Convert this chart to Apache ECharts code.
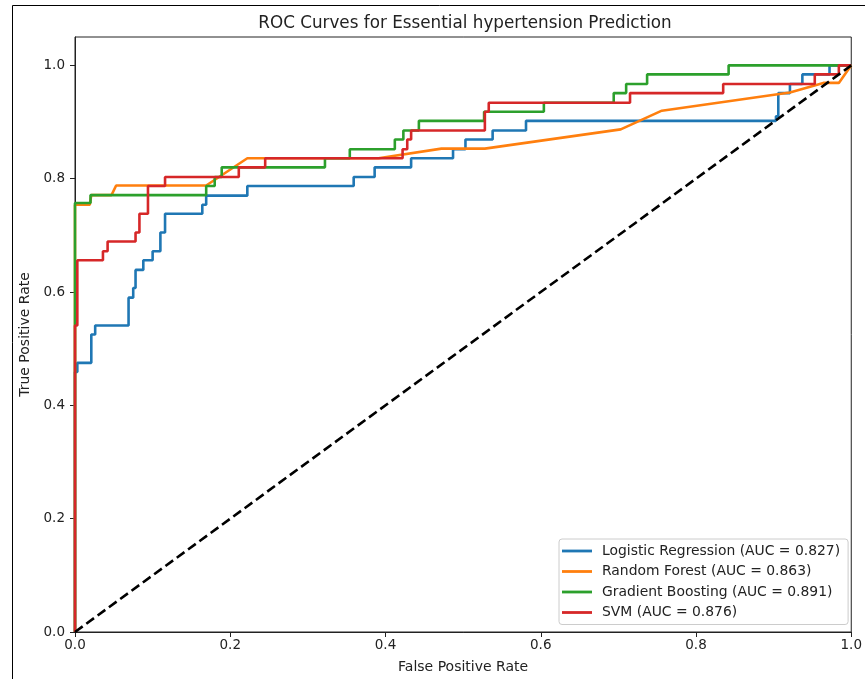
<!DOCTYPE html>
<html>
<head>
<meta charset="utf-8">
<script src="https://cdn.jsdelivr.net/npm/echarts@6/dist/echarts.min.js"></script>
<style>
  html, body { margin: 0; padding: 0; background: #fff; }
  #chart { width: 865px; height: 679px; }
</style>
</head>
<body>
<div id="chart"></div>
<script>
// ROC curves
const modelNames = ["Logistic Regression", "Random Forest", "Gradient Boosting", "SVM"]
const aucValues = ["0.827", "0.863", "0.891", "0.876"]
const colors = ["#1f77b4", "#ff7f0e", "#2ca02c", "#d62728"]

const lrFpr = [0, 0, 0.003, 0.003, 0.021, 0.021, 0.026, 0.026, 0.069, 0.069, 0.075, 0.075, 0.078, 0.078, 0.088, 0.088, 0.100, 0.100, 0.110, 0.110, 0.116, 0.116, 0.164, 0.164, 0.169, 0.169, 0.222, 0.222, 0.359, 0.359, 0.386, 0.386, 0.433, 0.433, 0.487, 0.487, 0.503, 0.503, 0.538, 0.538, 0.581, 0.581, 0.903, 0.903, 0.906, 0.906, 0.921, 0.921, 0.937, 0.937, 0.972, 0.972, 1]
const lrTpr = [0, 0.459, 0.459, 0.475, 0.475, 0.525, 0.525, 0.541, 0.541, 0.590, 0.590, 0.607, 0.607, 0.639, 0.639, 0.656, 0.656, 0.672, 0.672, 0.705, 0.705, 0.738, 0.738, 0.754, 0.754, 0.770, 0.770, 0.787, 0.787, 0.803, 0.803, 0.820, 0.820, 0.836, 0.836, 0.852, 0.852, 0.869, 0.869, 0.885, 0.885, 0.902, 0.902, 0.910, 0.910, 0.951, 0.951, 0.967, 0.967, 0.984, 0.984, 1, 1]

const rfFpr = [0, 0, 0.019, 0.021, 0.047, 0.053, 0.169, 0.222, 0.391, 0.472, 0.528, 0.703, 0.756, 0.921, 0.964, 0.984, 1]
const rfTpr = [0, 0.754, 0.754, 0.771, 0.771, 0.788, 0.788, 0.836, 0.836, 0.853, 0.853, 0.887, 0.920, 0.952, 0.969, 0.969, 1]

const gbFpr = [0, 0, 0.020, 0.020, 0.169, 0.169, 0.180, 0.180, 0.189, 0.189, 0.322, 0.322, 0.354, 0.354, 0.412, 0.412, 0.423, 0.423, 0.443, 0.443, 0.527, 0.527, 0.604, 0.604, 0.694, 0.694, 0.710, 0.710, 0.737, 0.737, 0.842, 0.842, 1]
const gbTpr = [0, 0.757, 0.757, 0.771, 0.771, 0.787, 0.787, 0.803, 0.803, 0.820, 0.820, 0.836, 0.836, 0.852, 0.852, 0.869, 0.869, 0.885, 0.885, 0.902, 0.902, 0.918, 0.918, 0.934, 0.934, 0.951, 0.951, 0.967, 0.967, 0.984, 0.984, 1, 1]

const svmFpr = [0, 0, 0.003, 0.003, 0.036, 0.036, 0.042, 0.042, 0.078, 0.078, 0.083, 0.083, 0.094, 0.094, 0.116, 0.116, 0.211, 0.211, 0.245, 0.245, 0.422, 0.422, 0.428, 0.428, 0.433, 0.433, 0.528, 0.528, 0.533, 0.533, 0.715, 0.715, 0.835, 0.835, 0.953, 0.953, 0.984, 0.984, 1]
const svmTpr = [0, 0.541, 0.541, 0.656, 0.656, 0.672, 0.672, 0.689, 0.689, 0.705, 0.705, 0.738, 0.738, 0.787, 0.787, 0.803, 0.803, 0.820, 0.820, 0.836, 0.836, 0.852, 0.852, 0.869, 0.869, 0.885, 0.885, 0.918, 0.918, 0.934, 0.934, 0.951, 0.951, 0.967, 0.967, 0.984, 0.984, 1, 1]

const chanceLine = [[0, 0], [1, 1]]
const xTicks = [0, 0.2, 0.4, 0.6, 0.8, 1.0]
const yTicks = [0, 0.2, 0.4, 0.6, 0.8, 1.0]

const font = "DejaVu Sans"
const zip = (xs, ys) => xs.map((x, i) => [x, ys[i]])
const curves = [zip(lrFpr, lrTpr), zip(rfFpr, rfTpr), zip(gbFpr, gbTpr), zip(svmFpr, svmTpr)]
const labels = modelNames.map((n, i) => `${n} (AUC = ${aucValues[i]})`)

const chart = echarts.init(document.getElementById("chart"))

const series = curves.map((data, i) => ({
  name: labels[i],
  type: "line",
  data,
  showSymbol: false,
  symbol: "none",
  color: colors[i],
  lineStyle: { width: 2.6, color: colors[i] }
}))
series.push({
  name: "chance",
  type: "line",
  data: chanceLine,
  showSymbol: false,
  symbol: "none",
  lineStyle: { width: 2.6, color: "#000", type: [9.5, 4.5] }
})

chart.setOption({
  animation: false,
  backgroundColor: "#fff",
  title: {
    text: "ROC Curves for Essential hypertension Prediction",
    left: 465,
    textAlign: "center",
    top: 15,
    padding: 0,
    textStyle: { fontFamily: font, fontSize: 16.8, fontWeight: "normal", color: "#222" }
  },
  grid: { left: 75, right: 10, top: 37, bottom: 47, show: true, borderColor: "#222", borderWidth: 1 },
  xAxis: {
    type: "value",
    min: 0,
    max: 1,
    interval: 0.2,
    name: "False Positive Rate",
    nameLocation: "middle",
    nameGap: 28,
    nameTextStyle: { fontFamily: font, fontSize: 14, color: "#222" },
    axisLine: { show: true, lineStyle: { color: "#222", width: 1 } },
    axisTick: { show: true, length: 5, customValues: xTicks, lineStyle: { color: "#222" } },
    axisLabel: { fontFamily: font, fontSize: 13.5, color: "#222", margin: 6, customValues: xTicks, formatter: v => v.toFixed(1) },
    splitLine: { show: false }
  },
  yAxis: {
    type: "value",
    min: 0,
    max: 1.05,
    interval: 0.2,
    name: "True Positive Rate",
    nameLocation: "middle",
    nameGap: 38,
    nameTextStyle: { fontFamily: font, fontSize: 14, color: "#222" },
    axisLine: { show: true, lineStyle: { color: "#222", width: 1 } },
    axisTick: { show: true, length: 5, customValues: yTicks, lineStyle: { color: "#222" } },
    axisLabel: { fontFamily: font, fontSize: 13.5, color: "#222", margin: 10, customValues: yTicks, formatter: v => v.toFixed(1) },
    splitLine: { show: false }
  },
  legend: {
    data: labels,
    orient: "vertical",
    left: 559,
    top: 539,
    padding: [4, 8, 4, 3],
    itemWidth: 30,
    itemHeight: 2.8,
    itemGap: 4.5,
    icon: "rect",
    backgroundColor: "rgba(255,255,255,0.85)",
    borderColor: "#ccc",
    borderWidth: 1,
    borderRadius: 3,
    textStyle: { fontFamily: font, fontSize: 13.9, color: "#222", lineHeight: 16, padding: [0, 0, 0, 5] }
  },
  graphic: [{
    type: "rect",
    shape: { x: 12.5, y: 5.5, width: 900, height: 700 },
    style: { fill: "none", stroke: "#000", lineWidth: 1 },
    silent: true
  }],
  series
})
</script>
</body>
</html>
